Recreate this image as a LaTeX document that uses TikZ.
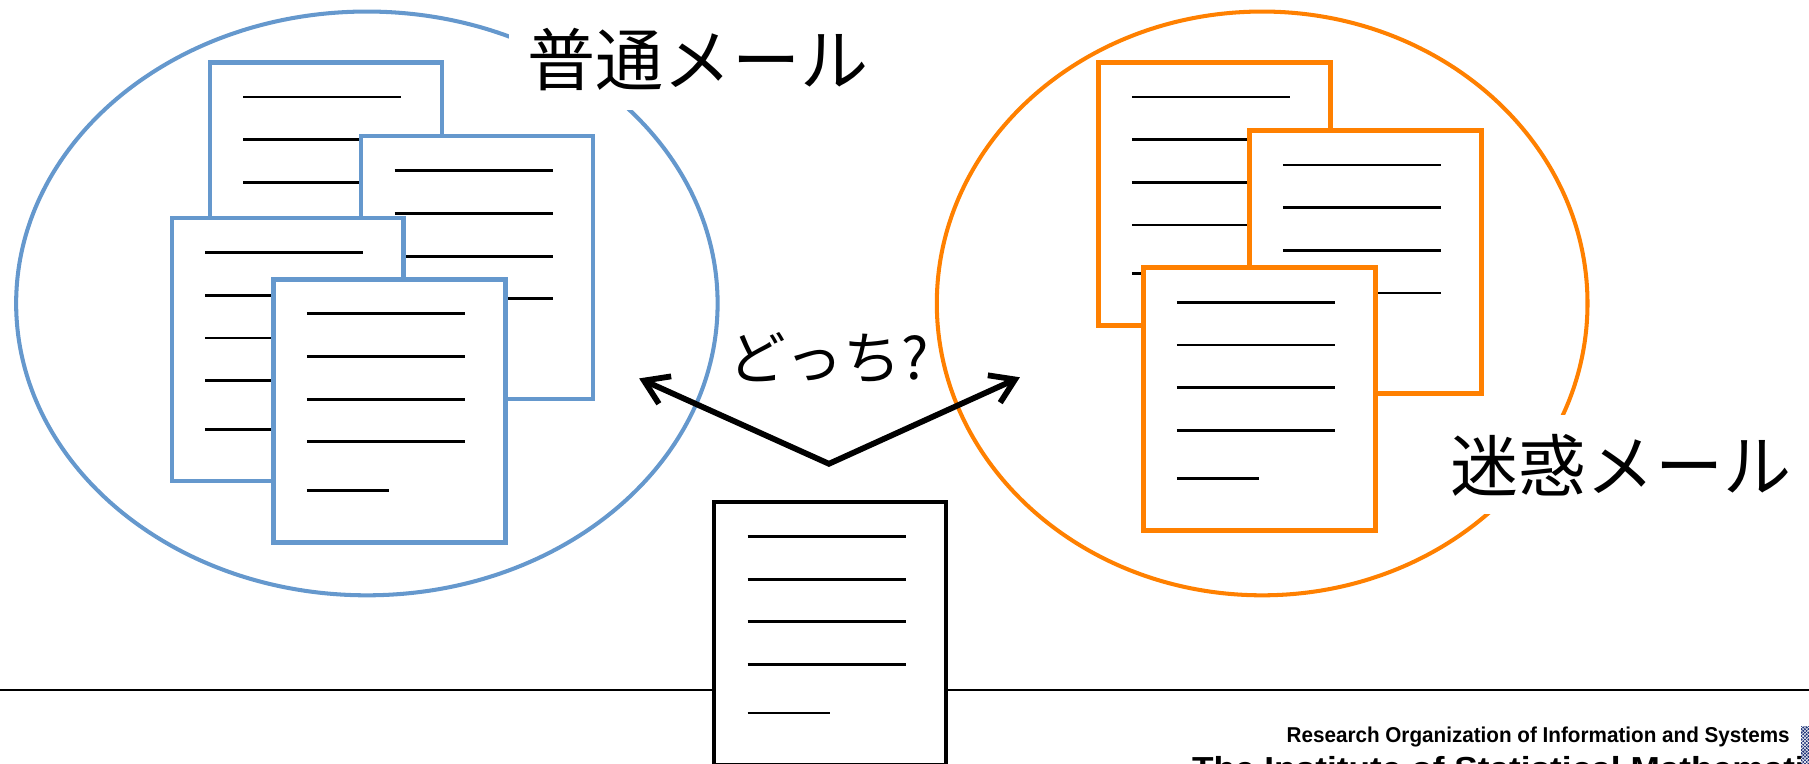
\documentclass[tikz,border=0pt]{standalone}
\usepackage{fontspec}
\newfontfamily\jp{Noto Sans CJK JP}
\newfontfamily\logofont{Liberation Sans}
\usetikzlibrary{shapes.geometric,arrows.meta,calc,patterns}
\definecolor{mblue}{RGB}{101,152,205}
\definecolor{morange}{RGB}{255,128,0}
\definecolor{navy}{RGB}{30,50,120}
\newcommand\mkdoc[4]{%
  \node[docbox,draw=#4] (#1) at (#2,#3) {};
  \foreach \yy in {32,69,106,143}{\draw[txtline] ($(#1.north west)+(31,\yy)$) -- ++(137,0);}
  \draw[txtline] ($(#1.north west)+(31,185)$) -- ++(71,0);
}
\begin{document}
\begin{tikzpicture}[x=1pt,y=-1pt,
  docbox/.style={rectangle,line width=4pt,fill=white,inner sep=0pt,minimum width=201pt,minimum height=228pt,anchor=north west},
  txtline/.style={line width=2.4pt,black},
  ring/.style={ellipse,draw,line width=3.5pt,inner sep=0pt},
  lbl/.style={fill=white,inner sep=16pt,font=\jp\fontsize{59}{70}\selectfont},
  arr/.style={line width=5pt,{Straight Barb[length=20pt,width=26pt]}-{Straight Barb[length=20pt,width=26pt]}}]
\useasboundingbox (0,0) rectangle (1568,662);
\clip (0,0) rectangle (1568,662);
% groups
\node[ring,draw=mblue,minimum width=608pt,minimum height=506pt] (ham) at (318,263) {};
\node[ring,draw=morange,minimum width=564pt,minimum height=506pt] (spam) at (1094,263) {};
% normal mail documents
\mkdoc{d1}{180}{52}{mblue}
\mkdoc{d2}{311}{116}{mblue}
\mkdoc{d3}{147}{187}{mblue}
\mkdoc{d4}{235}{240}{mblue}
% spam documents
\mkdoc{e1}{950}{52}{morange}
\mkdoc{e2}{1081}{111}{morange}
\mkdoc{e3}{989}{230}{morange}
% rule
\coordinate (rl) at (0,598);
\coordinate (rr) at (1568,598);
\draw[line width=1.5pt] (rl) -- (rr);
% query document
\mkdoc{qd}{617}{433}{black}
% labels
\node[lbl] (hamlbl) at (605,52) {普通メール};
\node[lbl] (spamlbl) at (1405,403) {迷惑メール};
\node[font=\jp\fontsize{50}{58}\selectfont,inner sep=0pt] (which) at (718,310) {どっち?};
% arrows
\coordinate (v) at (718.5,402);
\coordinate (lt) at (554,328);
\coordinate (rt) at (884,327);
\draw[arr] (lt) -- (v) -- (rt);
% logo
\node[anchor=base west,inner sep=0pt] (roi) at (1115,644) {\resizebox{436pt}{13.5pt}{\logofont\bfseries Research Organization of Information and Systems}};
\node[anchor=base west,inner sep=0pt] (ism) at (1033,676) {\resizebox{565pt}{20pt}{\logofont\bfseries The Institute of Statistical Mathematics}};
\node[fill=navy,inner sep=0pt,minimum width=8pt,minimum height=34pt,anchor=north west] (icon) at (1561,629) {};
\fill[pattern=north east lines,pattern color=white] (icon.south west) rectangle (icon.north east);
\fill[pattern=north west lines,pattern color=white] (icon.south west) rectangle (icon.north east);
\end{tikzpicture}
\end{document}
